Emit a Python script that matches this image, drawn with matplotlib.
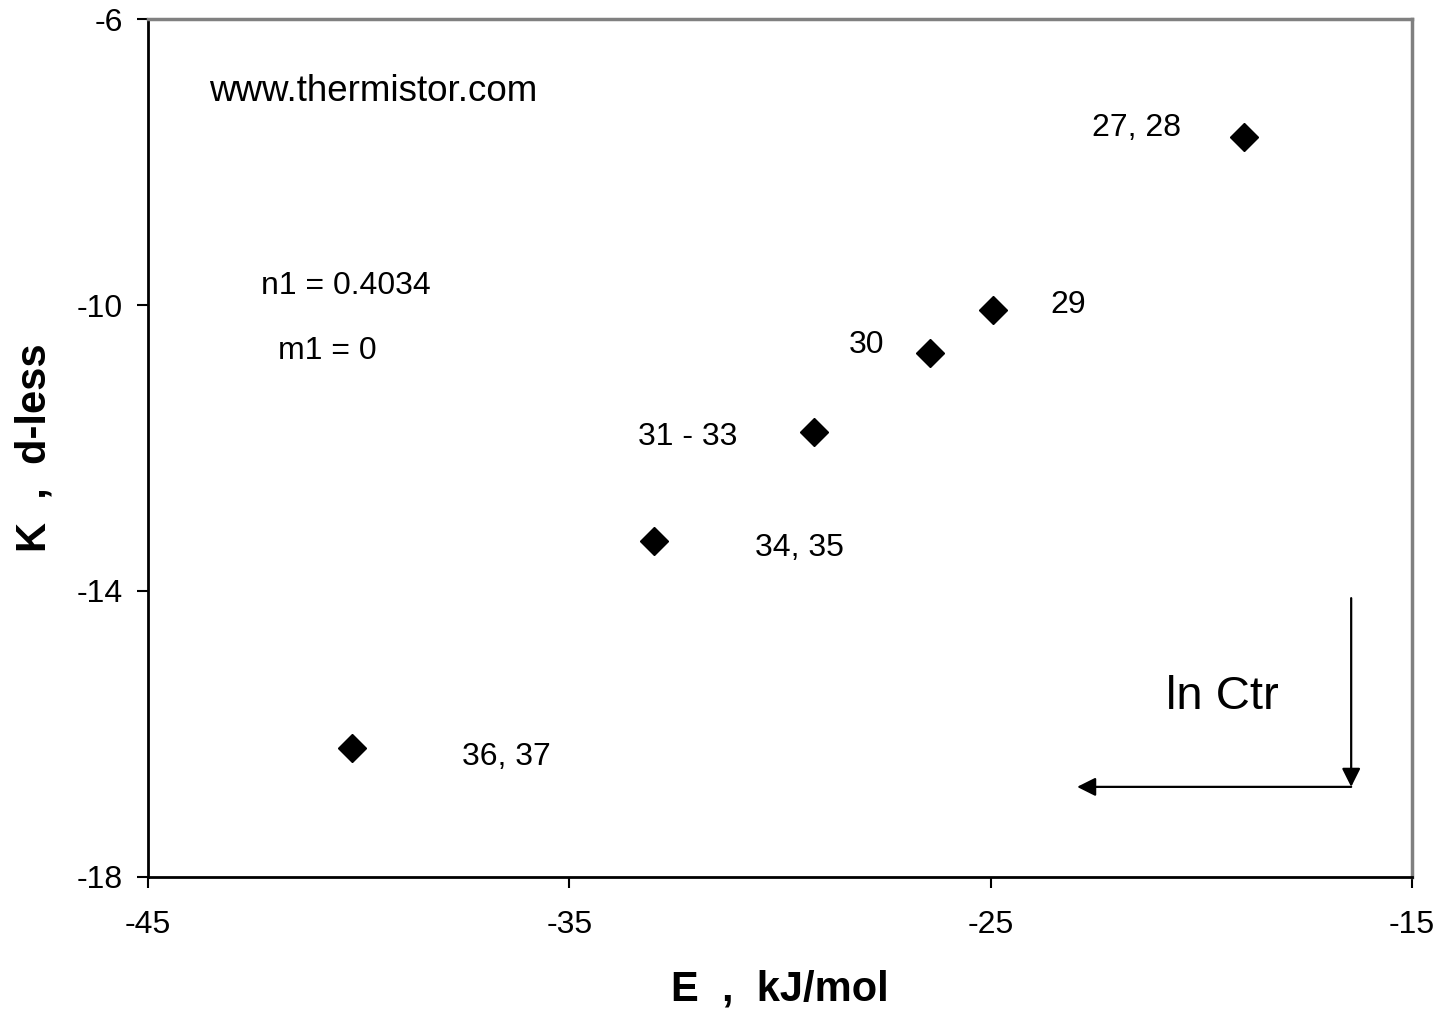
import matplotlib
matplotlib.use("Agg")
import matplotlib.pyplot as plt

plt.rcParams['font.family'] = ['Liberation Sans', 'DejaVu Sans']
plt.rcParams['axes.unicode_minus'] = False

# data
energy = [-19.0, -24.95, -26.45, -29.2, -33.0, -40.15]
ln_k = [-7.65, -10.07, -10.67, -11.78, -13.3, -16.2]
point_labels = ["27, 28", "29", "30", "31 - 33", "34, 35", "36, 37"]
label_pos = [(-21.55, -7.52), (-23.15, -10.0), (-27.95, -10.56),
             (-32.2, -11.84), (-29.55, -13.4), (-36.5, -16.32)]
x_ticks = [-45, -35, -25, -15]
y_ticks = [-18, -14, -10, -6]

fig = plt.figure(figsize=(14.4, 10.13), dpi=100)
ax = fig.add_axes([0.1028, 0.1343, 0.8778, 0.8469])

ax.plot(energy, ln_k, linestyle='none', marker='D', markersize=14,
        color='black', zorder=3)

for txt, (lx, ly) in zip(point_labels, label_pos):
    ax.text(lx, ly, txt, fontsize=23, ha='center', va='center')

ax.text(-39.65, -7.02, "www.thermistor.com", fontsize=26.5, ha='center', va='center')
ax.text(-40.3, -9.73, "n1 = 0.4034", fontsize=23, ha='center', va='center')
ax.text(-40.75, -10.64, "m1 = 0", fontsize=23, ha='center', va='center')
ax.text(-19.5, -15.48, "ln Ctr", fontsize=34, ha='center', va='center')

# arrows
arrow = dict(arrowstyle='-|>', color='black', lw=1.6, mutation_scale=28,
             shrinkA=0, shrinkB=0)
ax.annotate("", xy=(-16.445, -16.74), xytext=(-16.445, -14.1), arrowprops=arrow)
ax.annotate("", xy=(-22.95, -16.74), xytext=(-16.445, -16.74), arrowprops=arrow)

ax.set_xlim(-45, -15)
ax.set_ylim(-18, -6)
ax.set_xticks(x_ticks)
ax.set_yticks(y_ticks)
ax.tick_params(direction='out', length=8, width=1.5, labelsize=23)
ax.tick_params(axis='x', pad=16)
ax.tick_params(axis='y', pad=10)

for side in ['left', 'bottom']:
    ax.spines[side].set_linewidth(2)
for side in ['top', 'right']:
    ax.spines[side].set_color('#808080')
    ax.spines[side].set_linewidth(2.5)
ax.tick_params(top=False, right=False)

ax.set_xlabel("E  ,  kJ/mol", fontsize=30, fontweight='bold', labelpad=21)
ax.set_ylabel("K  ,  d-less", fontsize=30, fontweight='bold', labelpad=16)

fig.savefig("out.png", dpi=100)
